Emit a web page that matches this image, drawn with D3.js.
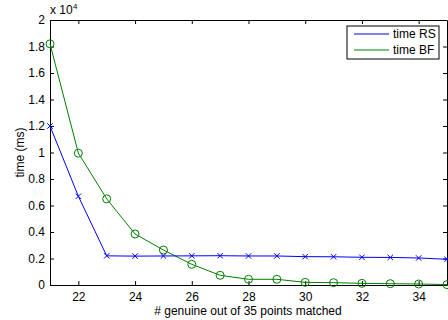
<!DOCTYPE html>
<html><head><meta charset="utf-8">
<script src="https://cdn.jsdelivr.net/npm/d3@7"></script>
<style>body{margin:0;background:#fff}svg{display:block}text{font-family:"Liberation Sans",Arial,sans-serif}</style>
</head><body>
<svg id="c" width="448" height="320"></svg>
<script>
const matched = [21,22,23,24,25,26,27,28,29,30,31,32,33,34,35];
const timeRS = [12000,6700,2200,2180,2190,2200,2210,2190,2190,2140,2130,2090,2080,2040,1940];
const timeBF = [18200,9950,6500,3850,2640,1560,730,430,430,200,175,125,100,75,30];
const xTicks = [22,24,26,28,30,32,34];
const yTicks = [0,2000,4000,6000,8000,10000,12000,14000,16000,18000,20000];
const seriesNames = ["time RS","time BF"];

const svg = d3.select("#c");
const L=50,R=447,T=20,B=285;
const x = d3.scaleLinear().domain([21,35]).range([L,R]);
const y = d3.scaleLinear().domain([0,20000]).range([B,T]);

svg.append("rect").attr("x",L).attr("y",T).attr("width",R-L).attr("height",B-T).attr("fill","#fff");

const fmtY = d => d3.format("")(+(d/10000).toFixed(1));
const gx = svg.append("g").attr("transform",`translate(0,${B})`)
  .call(d3.axisBottom(x).tickValues(xTicks).tickSizeInner(-4).tickSizeOuter(0).tickPadding(7));
const gxt = svg.append("g").attr("transform",`translate(0,${T})`)
  .call(d3.axisTop(x).tickValues(xTicks).tickSizeInner(-4).tickSizeOuter(0).tickFormat(""));
const gy = svg.append("g").attr("transform",`translate(${L},0)`)
  .call(d3.axisLeft(y).tickValues(yTicks).tickSizeInner(-4).tickSizeOuter(0).tickPadding(5).tickFormat(fmtY));
const gyr = svg.append("g").attr("transform",`translate(${R},0)`)
  .call(d3.axisRight(y).tickValues(yTicks).tickSizeInner(-4).tickSizeOuter(0).tickFormat(""));
[gx,gxt,gy,gyr].forEach(g=>{
  g.selectAll("path").attr("stroke","#000");
  g.selectAll("line").attr("stroke","#000");
  g.selectAll("text").attr("font-size","12px").attr("fill","#000").attr("font-family","Liberation Sans, Arial, sans-serif");
});

svg.append("text").attr("x",L).attr("y",14).attr("font-size","12px").text("x 10");
svg.append("text").attr("x",L+23).attr("y",9).attr("font-size","8px").text("4");

const line = d3.line().x((d,i)=>x(matched[i])).y(d=>y(d));
svg.append("path").datum(timeBF).attr("d",line).attr("fill","none").attr("stroke","#008000").attr("stroke-width",1);
svg.append("path").datum(timeRS).attr("d",line).attr("fill","none").attr("stroke","#0000ff").attr("stroke-width",1);

svg.append("g").selectAll("circle").data(timeBF).join("circle")
  .attr("cx",(d,i)=>x(matched[i])).attr("cy",d=>y(d)).attr("r",4)
  .attr("fill","none").attr("stroke","#008000").attr("stroke-width",1);
const s=2.7;
svg.append("g").selectAll("path").data(timeRS).join("path")
  .attr("d",(d,i)=>{const cx=x(matched[i]),cy=y(d);return `M${cx-s},${cy-s}L${cx+s},${cy+s}M${cx-s},${cy+s}L${cx+s},${cy-s}`;})
  .attr("stroke","#0000ff").attr("stroke-width",1).attr("fill","none");

svg.append("text").attr("x",248).attr("y",315).attr("text-anchor","middle").attr("font-size","12px").text("# genuine out of 35 points matched");
svg.append("text").attr("transform",`translate(24,${(T+B)/2}) rotate(-90)`).attr("text-anchor","middle").attr("font-size","12px").text("time (ms)");

const lg = svg.append("g");
lg.append("rect").attr("x",347).attr("y",26).attr("width",92).attr("height",33).attr("fill","#fff").attr("stroke","#000").attr("stroke-width",1);
const colors=["#0000ff","#008000"];
seriesNames.forEach((n,i)=>{
  const yy=34+i*16;
  lg.append("line").attr("x1",354).attr("x2",389).attr("y1",yy).attr("y2",yy).attr("stroke",colors[i]);
  lg.append("text").attr("x",393).attr("y",yy+4).attr("font-size","12px").text(n);
});
</script>
</body></html>
